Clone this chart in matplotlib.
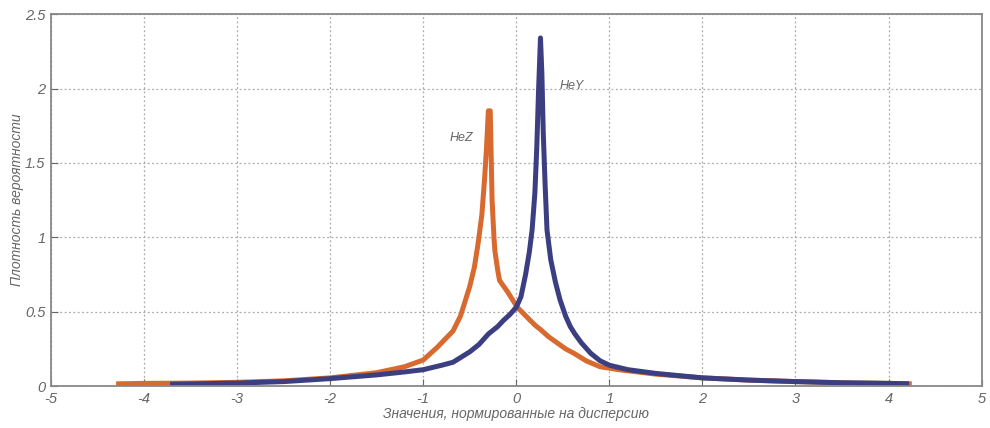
import matplotlib
matplotlib.use("Agg")
import matplotlib.pyplot as plt

plt.rcParams["font.family"] = ["Liberation Sans", "DejaVu Sans"]

# values
hez_x = [-4.3, -4.0, -3.5, -3.0, -2.5, -2.0, -1.5, -1.2, -1.0, -0.85, -0.68, -0.6,
         -0.5, -0.45, -0.41, -0.37, -0.34, -0.32, -0.3, -0.28, -0.27, -0.26, -0.24,
         -0.23, -0.2, -0.18, -0.09, 0.01, 0.12, 0.2, 0.26, 0.35, 0.44, 0.53, 0.62,
         0.75, 0.9, 1.1, 1.5, 2.0, 2.5, 3.0, 3.5, 4.0, 4.25]
hez_y = [0.015, 0.018, 0.02, 0.025, 0.035, 0.055, 0.09, 0.13, 0.175, 0.26, 0.37, 0.47,
         0.67, 0.8, 0.96, 1.15, 1.4, 1.6, 1.85, 1.85, 1.55, 1.25, 1.0,
         0.91, 0.78, 0.71, 0.63, 0.53, 0.46, 0.41, 0.38, 0.33, 0.29, 0.25, 0.22,
         0.17, 0.13, 0.11, 0.08, 0.055, 0.04, 0.03, 0.022, 0.018, 0.015]

hey_x = [-3.72, -3.0, -2.5, -2.0, -1.5, -1.2, -1.0, -0.8, -0.68, -0.5, -0.4, -0.3,
         -0.2, -0.14, -0.07, 0.0, 0.05, 0.1, 0.14, 0.17, 0.2, 0.22, 0.24, 0.26,
         0.275, 0.29, 0.31, 0.33, 0.37, 0.42, 0.47, 0.53, 0.58, 0.63, 0.7, 0.8,
         0.9, 1.0, 1.2, 1.5, 2.0, 2.5, 3.0, 3.5, 4.0, 4.22]
hey_y = [0.012, 0.02, 0.03, 0.05, 0.075, 0.095, 0.11, 0.14, 0.16, 0.23, 0.28, 0.35,
         0.40, 0.44, 0.48, 0.53, 0.6, 0.75, 0.9, 1.05, 1.3, 1.6, 2.0, 2.34,
         2.1, 1.7, 1.35, 1.05, 0.85, 0.7, 0.58, 0.47, 0.4, 0.35, 0.29, 0.22,
         0.17, 0.14, 0.11, 0.085, 0.055, 0.04, 0.03, 0.022, 0.018, 0.015]

x_ticks = [-5, -4, -3, -2, -1, 0, 1, 2, 3, 4, 5]
y_ticks = [0, 0.5, 1, 1.5, 2, 2.5]
y_tick_labels = ["0", "0.5", "1", "1.5", "2", "2.5"]

text_col = "#666666"

fig = plt.figure(figsize=(9.9, 4.28), dpi=100)
ax = fig.add_axes([0.0515, 0.098, 0.94, 0.869])

ax.plot(hez_x, hez_y, color="#d86a30", lw=3.6, solid_capstyle="butt")
ax.plot(hey_x, hey_y, color="#3c3e82", lw=3.6, solid_capstyle="butt")

ax.text(-0.72, 1.65, "HeZ", fontsize=9, style="italic", color=text_col)
ax.text(0.47, 2.0, "HeY", fontsize=9, style="italic", color=text_col)

ax.set_xlim(-5, 5)
ax.set_ylim(0, 2.5)
ax.set_xticks(x_ticks)
ax.set_xticklabels([str(t) for t in x_ticks])
ax.set_yticks(y_ticks)
ax.set_yticklabels(y_tick_labels)
ax.grid(True, color="#aaaaaa", linestyle=(0, (1.5, 2)), lw=0.9)

ax.tick_params(direction="in", length=5, color="#666666", labelsize=10.5,
               labelcolor=text_col, pad=4)
for lab in ax.get_xticklabels() + ax.get_yticklabels():
    lab.set_style("italic")
for s in ax.spines.values():
    s.set_color("#888888")
    s.set_linewidth(1.3)

ax.set_xlabel("Значения, нормированные на дисперсию", fontsize=10,
              style="italic", color=text_col, labelpad=1)
ax.set_ylabel("Плотность вероятности", fontsize=10, style="italic",
              color=text_col, labelpad=1)

fig.savefig("out.png", dpi=100)
